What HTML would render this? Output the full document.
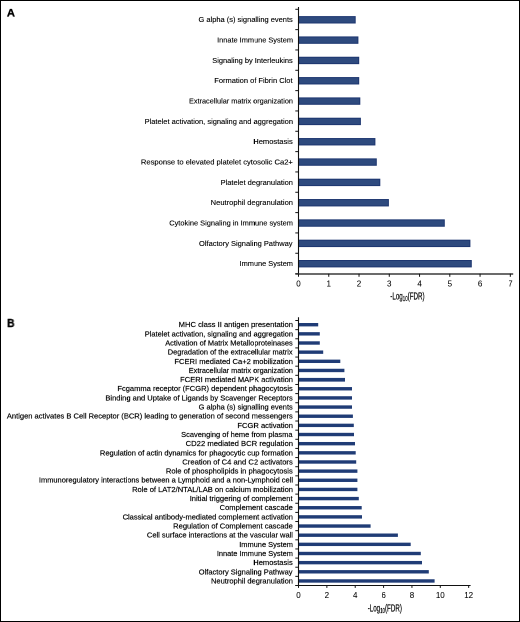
<!DOCTYPE html>
<html><head><meta charset="utf-8"><style>
html,body{margin:0;padding:0;background:#fff;}
body{width:520px;height:622px;overflow:hidden;}
#wrap{position:absolute;left:0;top:0;width:1040px;height:1244px;transform-origin:0 0;transform:scale(0.5);will-change:transform;}
svg{display:block;}
.lab{font-family:"Liberation Sans", sans-serif;fill:#000;stroke:#000;stroke-width:0.12px;text-anchor:end;}
.labb{stroke-width:0.17px;}
.tick{font-family:"Liberation Sans", sans-serif;font-size:8px;fill:#000;stroke:#000;stroke-width:0.05px;text-anchor:middle;}
.axt{font-family:"Liberation Sans", sans-serif;font-size:10px;fill:#000;stroke:#000;stroke-width:0.2px;}
.pl{font-family:"Liberation Sans", sans-serif;font-weight:bold;fill:#000;stroke:#000;stroke-width:0.35px;}
</style></head><body>
<div id="wrap"><svg width="1040" height="1244" viewBox="0 0 520 622">
<rect x="0.5" y="0.5" width="519" height="621" fill="#fff" stroke="#000" stroke-width="1"/>
<rect x="298.5" y="16.6" width="56.7" height="6.4" fill="#2e4a7e" stroke="#1d3670" stroke-width="1"/>
<text x="292.77" y="22.20" class="lab" font-size="7.7" textLength="94.25" lengthAdjust="spacingAndGlyphs">G alpha (s) signalling events</text>
<rect x="298.5" y="36.92" width="59.4" height="6.4" fill="#2e4a7e" stroke="#1d3670" stroke-width="1"/>
<text x="292.99" y="42.52" class="lab" font-size="7.7" textLength="75.87" lengthAdjust="spacingAndGlyphs">Innate Immune System</text>
<rect x="298.5" y="57.25" width="60.2" height="6.4" fill="#2e4a7e" stroke="#1d3670" stroke-width="1"/>
<text x="292.77" y="62.85" class="lab" font-size="7.7" textLength="80.51" lengthAdjust="spacingAndGlyphs">Signaling by Interleukins</text>
<rect x="298.5" y="77.57" width="60.2" height="6.4" fill="#2e4a7e" stroke="#1d3670" stroke-width="1"/>
<text x="292.55" y="83.17" class="lab" font-size="7.7" textLength="78.27" lengthAdjust="spacingAndGlyphs">Formation of Fibrin Clot</text>
<rect x="298.5" y="97.9" width="61.3" height="6.4" fill="#2e4a7e" stroke="#1d3670" stroke-width="1"/>
<text x="292.97" y="103.50" class="lab" font-size="7.7" textLength="103.97" lengthAdjust="spacingAndGlyphs">Extracellular matrix organization</text>
<rect x="298.5" y="118.22" width="61.9" height="6.4" fill="#2e4a7e" stroke="#1d3670" stroke-width="1"/>
<text x="292.99" y="123.83" class="lab" font-size="7.7" textLength="148.40" lengthAdjust="spacingAndGlyphs">Platelet activation, signaling and aggregation</text>
<rect x="298.5" y="138.55" width="76.4" height="6.4" fill="#2e4a7e" stroke="#1d3670" stroke-width="1"/>
<text x="292.77" y="144.15" class="lab" font-size="7.7" textLength="39.49" lengthAdjust="spacingAndGlyphs">Hemostasis</text>
<rect x="298.5" y="158.88" width="77.8" height="6.4" fill="#2e4a7e" stroke="#1d3670" stroke-width="1"/>
<text x="292.88" y="164.48" class="lab" font-size="7.7" textLength="152.00" lengthAdjust="spacingAndGlyphs">Response to elevated platelet cytosolic Ca2+</text>
<rect x="298.5" y="179.2" width="81.3" height="6.4" fill="#2e4a7e" stroke="#1d3670" stroke-width="1"/>
<text x="292.99" y="184.80" class="lab" font-size="7.7" textLength="72.40" lengthAdjust="spacingAndGlyphs">Platelet degranulation</text>
<rect x="298.5" y="199.53" width="89.9" height="6.4" fill="#2e4a7e" stroke="#1d3670" stroke-width="1"/>
<text x="292.99" y="205.12" class="lab" font-size="7.7" textLength="82.31" lengthAdjust="spacingAndGlyphs">Neutrophil degranulation</text>
<rect x="298.5" y="219.85" width="145.8" height="6.4" fill="#2e4a7e" stroke="#1d3670" stroke-width="1"/>
<text x="292.99" y="225.45" class="lab" font-size="7.7" textLength="123.77" lengthAdjust="spacingAndGlyphs">Cytokine Signaling in Immune system</text>
<rect x="298.5" y="240.18" width="171.4" height="6.4" fill="#2e4a7e" stroke="#1d3670" stroke-width="1"/>
<text x="292.51" y="245.78" class="lab" font-size="7.7" textLength="93.47" lengthAdjust="spacingAndGlyphs">Olfactory Signaling Pathway</text>
<rect x="298.5" y="260.5" width="172.8" height="6.4" fill="#2e4a7e" stroke="#1d3670" stroke-width="1"/>
<text x="292.99" y="266.10" class="lab" font-size="7.7" textLength="53.47" lengthAdjust="spacingAndGlyphs">Immune System</text>
<line x1="298.5" y1="7" x2="298.5" y2="274.09" stroke="#111" stroke-width="1.1"/>
<line x1="295.3" y1="9.3" x2="298.5" y2="9.3" stroke="#111" stroke-width="1"/>
<line x1="295.3" y1="29.63" x2="298.5" y2="29.63" stroke="#111" stroke-width="1"/>
<line x1="295.3" y1="49.96" x2="298.5" y2="49.96" stroke="#111" stroke-width="1"/>
<line x1="295.3" y1="70.29" x2="298.5" y2="70.29" stroke="#111" stroke-width="1"/>
<line x1="295.3" y1="90.62" x2="298.5" y2="90.62" stroke="#111" stroke-width="1"/>
<line x1="295.3" y1="110.95" x2="298.5" y2="110.95" stroke="#111" stroke-width="1"/>
<line x1="295.3" y1="131.28" x2="298.5" y2="131.28" stroke="#111" stroke-width="1"/>
<line x1="295.3" y1="151.61" x2="298.5" y2="151.61" stroke="#111" stroke-width="1"/>
<line x1="295.3" y1="171.94" x2="298.5" y2="171.94" stroke="#111" stroke-width="1"/>
<line x1="295.3" y1="192.27" x2="298.5" y2="192.27" stroke="#111" stroke-width="1"/>
<line x1="295.3" y1="212.6" x2="298.5" y2="212.6" stroke="#111" stroke-width="1"/>
<line x1="295.3" y1="232.93" x2="298.5" y2="232.93" stroke="#111" stroke-width="1"/>
<line x1="295.3" y1="253.26" x2="298.5" y2="253.26" stroke="#111" stroke-width="1"/>
<line x1="295.3" y1="273.59" x2="298.5" y2="273.59" stroke="#111" stroke-width="1"/>
<line x1="295.3" y1="274" x2="513.2" y2="274" stroke="#3a3a3a" stroke-width="1.6"/>
<line x1="298.5" y1="273.59" x2="298.5" y2="276.8" stroke="#111" stroke-width="1"/>
<text x="298.5" y="286.4" class="tick">0</text>
<line x1="328.76" y1="273.59" x2="328.76" y2="276.8" stroke="#111" stroke-width="1"/>
<text x="328.76" y="286.4" class="tick">1</text>
<line x1="359.02" y1="273.59" x2="359.02" y2="276.8" stroke="#111" stroke-width="1"/>
<text x="359.02" y="286.4" class="tick">2</text>
<line x1="389.28" y1="273.59" x2="389.28" y2="276.8" stroke="#111" stroke-width="1"/>
<text x="389.28" y="286.4" class="tick">3</text>
<line x1="419.54" y1="273.59" x2="419.54" y2="276.8" stroke="#111" stroke-width="1"/>
<text x="419.54" y="286.4" class="tick">4</text>
<line x1="449.8" y1="273.59" x2="449.8" y2="276.8" stroke="#111" stroke-width="1"/>
<text x="449.8" y="286.4" class="tick">5</text>
<line x1="480.06" y1="273.59" x2="480.06" y2="276.8" stroke="#111" stroke-width="1"/>
<text x="480.06" y="286.4" class="tick">6</text>
<line x1="510.32" y1="273.59" x2="510.32" y2="276.8" stroke="#111" stroke-width="1"/>
<text x="510.32" y="286.4" class="tick">7</text>
<text x="390.3" y="299.4" class="axt" textLength="34.3" lengthAdjust="spacingAndGlyphs">-Log<tspan font-size="7" dy="1.4">10</tspan><tspan dy="-1.4">(FDR)</tspan></text>
<rect x="298.5" y="323" width="19.7" height="3.4" fill="#203c76"/>
<text x="292.99" y="327.15" class="lab labb" font-size="7.5" textLength="114.32" lengthAdjust="spacingAndGlyphs">MHC class II antigen presentation</text>
<rect x="298.5" y="332.15" width="21.3" height="3.4" fill="#203c76"/>
<text x="292.99" y="336.30" class="lab labb" font-size="7.5" textLength="148.30" lengthAdjust="spacingAndGlyphs">Platelet activation, signaling and aggregation</text>
<rect x="298.5" y="341.3" width="21.3" height="3.4" fill="#203c76"/>
<text x="292.77" y="345.45" class="lab labb" font-size="7.5" textLength="127.58" lengthAdjust="spacingAndGlyphs">Activation of Matrix Metalloproteinases</text>
<rect x="298.5" y="350.46" width="24.7" height="3.4" fill="#203c76"/>
<text x="292.58" y="354.61" class="lab labb" font-size="7.5" textLength="124.79" lengthAdjust="spacingAndGlyphs">Degradation of the extracellular matrix</text>
<rect x="298.5" y="359.61" width="41.8" height="3.4" fill="#203c76"/>
<text x="292.99" y="363.76" class="lab labb" font-size="7.5" textLength="118.61" lengthAdjust="spacingAndGlyphs">FCERI mediated Ca+2 mobilization</text>
<rect x="298.5" y="368.76" width="45.9" height="3.4" fill="#203c76"/>
<text x="292.98" y="372.91" class="lab labb" font-size="7.5" textLength="104.18" lengthAdjust="spacingAndGlyphs">Extracellular matrix organization</text>
<rect x="298.5" y="377.91" width="46.5" height="3.4" fill="#203c76"/>
<text x="292.99" y="382.06" class="lab labb" font-size="7.5" textLength="112.80" lengthAdjust="spacingAndGlyphs">FCERI mediated MAPK activation</text>
<rect x="298.5" y="387.06" width="53.5" height="3.4" fill="#203c76"/>
<text x="292.77" y="391.21" class="lab labb" font-size="7.5" textLength="175.39" lengthAdjust="spacingAndGlyphs">Fcgamma receptor (FCGR) dependent phagocytosis</text>
<rect x="298.5" y="396.22" width="53.5" height="3.4" fill="#203c76"/>
<text x="292.77" y="400.37" class="lab labb" font-size="7.5" textLength="187.39" lengthAdjust="spacingAndGlyphs">Binding and Uptake of Ligands by Scavenger Receptors</text>
<rect x="298.5" y="405.37" width="53.5" height="3.4" fill="#203c76"/>
<text x="292.77" y="409.52" class="lab labb" font-size="7.5" textLength="94.14" lengthAdjust="spacingAndGlyphs">G alpha (s) signalling events</text>
<rect x="298.5" y="414.52" width="54.4" height="3.4" fill="#203c76"/>
<text x="292.77" y="418.67" class="lab labb" font-size="7.5" textLength="285.89" lengthAdjust="spacingAndGlyphs">Antigen activates B Cell Receptor (BCR) leading to generation of second messengers</text>
<rect x="298.5" y="423.67" width="55.3" height="3.4" fill="#203c76"/>
<text x="292.99" y="427.82" class="lab labb" font-size="7.5" textLength="55.61" lengthAdjust="spacingAndGlyphs">FCGR activation</text>
<rect x="298.5" y="432.82" width="55.5" height="3.4" fill="#203c76"/>
<text x="292.50" y="436.97" class="lab labb" font-size="7.5" textLength="111.34" lengthAdjust="spacingAndGlyphs">Scavenging of heme from plasma</text>
<rect x="298.5" y="441.98" width="56.5" height="3.4" fill="#203c76"/>
<text x="293.00" y="446.13" class="lab labb" font-size="7.5" textLength="107.39" lengthAdjust="spacingAndGlyphs">CD22 mediated BCR regulation</text>
<rect x="298.5" y="451.13" width="57.2" height="3.4" fill="#203c76"/>
<text x="292.99" y="455.28" class="lab labb" font-size="7.5" textLength="193.11" lengthAdjust="spacingAndGlyphs">Regulation of actin dynamics for phagocytic cup formation</text>
<rect x="298.5" y="460.28" width="57.7" height="3.4" fill="#203c76"/>
<text x="292.78" y="464.43" class="lab labb" font-size="7.5" textLength="110.46" lengthAdjust="spacingAndGlyphs">Creation of C4 and C2 activators</text>
<rect x="298.5" y="469.43" width="58.9" height="3.4" fill="#203c76"/>
<text x="292.77" y="473.58" class="lab labb" font-size="7.5" textLength="126.90" lengthAdjust="spacingAndGlyphs">Role of phospholipids in phagocytosis</text>
<rect x="298.5" y="478.58" width="58.9" height="3.4" fill="#203c76"/>
<text x="293.00" y="482.73" class="lab labb" font-size="7.5" textLength="254.09" lengthAdjust="spacingAndGlyphs">Immunoregulatory interactions between a Lymphoid and a non-Lymphoid cell</text>
<rect x="298.5" y="487.74" width="58.9" height="3.4" fill="#203c76"/>
<text x="292.99" y="491.89" class="lab labb" font-size="7.5" textLength="160.90" lengthAdjust="spacingAndGlyphs">Role of LAT2/NTAL/LAB on calcium mobilization</text>
<rect x="298.5" y="496.89" width="60.3" height="3.4" fill="#203c76"/>
<text x="292.56" y="501.04" class="lab labb" font-size="7.5" textLength="102.85" lengthAdjust="spacingAndGlyphs">Initial triggering of complement</text>
<rect x="298.5" y="506.04" width="63.2" height="3.4" fill="#203c76"/>
<text x="292.84" y="510.19" class="lab labb" font-size="7.5" textLength="73.22" lengthAdjust="spacingAndGlyphs">Complement cascade</text>
<rect x="298.5" y="515.19" width="63.5" height="3.4" fill="#203c76"/>
<text x="292.99" y="519.34" class="lab labb" font-size="7.5" textLength="170.37" lengthAdjust="spacingAndGlyphs">Classical antibody-mediated complement activation</text>
<rect x="298.5" y="524.34" width="72.1" height="3.4" fill="#203c76"/>
<text x="292.84" y="528.49" class="lab labb" font-size="7.5" textLength="119.66" lengthAdjust="spacingAndGlyphs">Regulation of Complement cascade</text>
<rect x="298.5" y="533.5" width="99.4" height="3.4" fill="#203c76"/>
<text x="293.00" y="537.65" class="lab labb" font-size="7.5" textLength="146.08" lengthAdjust="spacingAndGlyphs">Cell surface interactions at the vascular wall</text>
<rect x="298.5" y="542.65" width="112.2" height="3.4" fill="#203c76"/>
<text x="292.99" y="546.80" class="lab labb" font-size="7.5" textLength="53.78" lengthAdjust="spacingAndGlyphs">Immune System</text>
<rect x="298.5" y="551.8" width="122.3" height="3.4" fill="#203c76"/>
<text x="292.99" y="555.95" class="lab labb" font-size="7.5" textLength="76.17" lengthAdjust="spacingAndGlyphs">Innate Immune System</text>
<rect x="298.5" y="560.95" width="123.5" height="3.4" fill="#203c76"/>
<text x="292.77" y="565.10" class="lab labb" font-size="7.5" textLength="39.49" lengthAdjust="spacingAndGlyphs">Hemostasis</text>
<rect x="298.5" y="570.1" width="130.3" height="3.4" fill="#203c76"/>
<text x="292.51" y="574.25" class="lab labb" font-size="7.5" textLength="93.77" lengthAdjust="spacingAndGlyphs">Olfactory Signaling Pathway</text>
<rect x="298.5" y="579.26" width="136.1" height="3.4" fill="#203c76"/>
<text x="292.99" y="583.41" class="lab labb" font-size="7.5" textLength="82.01" lengthAdjust="spacingAndGlyphs">Neutrophil degranulation</text>
<line x1="298.5" y1="317.3" x2="298.5" y2="586" stroke="#111" stroke-width="1.1"/>
<line x1="295.3" y1="320.5" x2="298.5" y2="320.5" stroke="#111" stroke-width="1"/>
<line x1="295.3" y1="329.64" x2="298.5" y2="329.64" stroke="#111" stroke-width="1"/>
<line x1="295.3" y1="338.78" x2="298.5" y2="338.78" stroke="#111" stroke-width="1"/>
<line x1="295.3" y1="347.91" x2="298.5" y2="347.91" stroke="#111" stroke-width="1"/>
<line x1="295.3" y1="357.05" x2="298.5" y2="357.05" stroke="#111" stroke-width="1"/>
<line x1="295.3" y1="366.19" x2="298.5" y2="366.19" stroke="#111" stroke-width="1"/>
<line x1="295.3" y1="375.33" x2="298.5" y2="375.33" stroke="#111" stroke-width="1"/>
<line x1="295.3" y1="384.47" x2="298.5" y2="384.47" stroke="#111" stroke-width="1"/>
<line x1="295.3" y1="393.6" x2="298.5" y2="393.6" stroke="#111" stroke-width="1"/>
<line x1="295.3" y1="402.74" x2="298.5" y2="402.74" stroke="#111" stroke-width="1"/>
<line x1="295.3" y1="411.88" x2="298.5" y2="411.88" stroke="#111" stroke-width="1"/>
<line x1="295.3" y1="421.02" x2="298.5" y2="421.02" stroke="#111" stroke-width="1"/>
<line x1="295.3" y1="430.15" x2="298.5" y2="430.15" stroke="#111" stroke-width="1"/>
<line x1="295.3" y1="439.29" x2="298.5" y2="439.29" stroke="#111" stroke-width="1"/>
<line x1="295.3" y1="448.43" x2="298.5" y2="448.43" stroke="#111" stroke-width="1"/>
<line x1="295.3" y1="457.57" x2="298.5" y2="457.57" stroke="#111" stroke-width="1"/>
<line x1="295.3" y1="466.71" x2="298.5" y2="466.71" stroke="#111" stroke-width="1"/>
<line x1="295.3" y1="475.84" x2="298.5" y2="475.84" stroke="#111" stroke-width="1"/>
<line x1="295.3" y1="484.98" x2="298.5" y2="484.98" stroke="#111" stroke-width="1"/>
<line x1="295.3" y1="494.12" x2="298.5" y2="494.12" stroke="#111" stroke-width="1"/>
<line x1="295.3" y1="503.26" x2="298.5" y2="503.26" stroke="#111" stroke-width="1"/>
<line x1="295.3" y1="512.4" x2="298.5" y2="512.4" stroke="#111" stroke-width="1"/>
<line x1="295.3" y1="521.53" x2="298.5" y2="521.53" stroke="#111" stroke-width="1"/>
<line x1="295.3" y1="530.67" x2="298.5" y2="530.67" stroke="#111" stroke-width="1"/>
<line x1="295.3" y1="539.81" x2="298.5" y2="539.81" stroke="#111" stroke-width="1"/>
<line x1="295.3" y1="548.95" x2="298.5" y2="548.95" stroke="#111" stroke-width="1"/>
<line x1="295.3" y1="558.09" x2="298.5" y2="558.09" stroke="#111" stroke-width="1"/>
<line x1="295.3" y1="567.22" x2="298.5" y2="567.22" stroke="#111" stroke-width="1"/>
<line x1="295.3" y1="576.36" x2="298.5" y2="576.36" stroke="#111" stroke-width="1"/>
<line x1="295.3" y1="585.5" x2="298.5" y2="585.5" stroke="#111" stroke-width="1"/>
<line x1="295.3" y1="585.5" x2="470.6" y2="585.5" stroke="#111" stroke-width="1.1"/>
<line x1="298.5" y1="585.5" x2="298.5" y2="587.9" stroke="#111" stroke-width="1"/>
<text x="298.5" y="598" class="tick">0</text>
<line x1="326.86" y1="585.5" x2="326.86" y2="587.9" stroke="#111" stroke-width="1"/>
<text x="326.86" y="598" class="tick">2</text>
<line x1="355.22" y1="585.5" x2="355.22" y2="587.9" stroke="#111" stroke-width="1"/>
<text x="355.22" y="598" class="tick">4</text>
<line x1="383.58" y1="585.5" x2="383.58" y2="587.9" stroke="#111" stroke-width="1"/>
<text x="383.58" y="598" class="tick">6</text>
<line x1="411.94" y1="585.5" x2="411.94" y2="587.9" stroke="#111" stroke-width="1"/>
<text x="411.94" y="598" class="tick">8</text>
<line x1="440.3" y1="585.5" x2="440.3" y2="587.9" stroke="#111" stroke-width="1"/>
<text x="440.3" y="598" class="tick">10</text>
<line x1="468.66" y1="585.5" x2="468.66" y2="587.9" stroke="#111" stroke-width="1"/>
<text x="468.66" y="598" class="tick">12</text>
<text x="367.7" y="611.5" class="axt" textLength="34.2" lengthAdjust="spacingAndGlyphs">-Log<tspan font-size="7" dy="1.4">10</tspan><tspan dy="-1.4">(FDR)</tspan></text>
<text x="6.9" y="16.28" class="pl" font-size="11.2">A</text>
<text transform="translate(7.2,327) scale(0.9,1)" class="pl" font-size="11.2">B</text>
</svg></div>
</body></html>
